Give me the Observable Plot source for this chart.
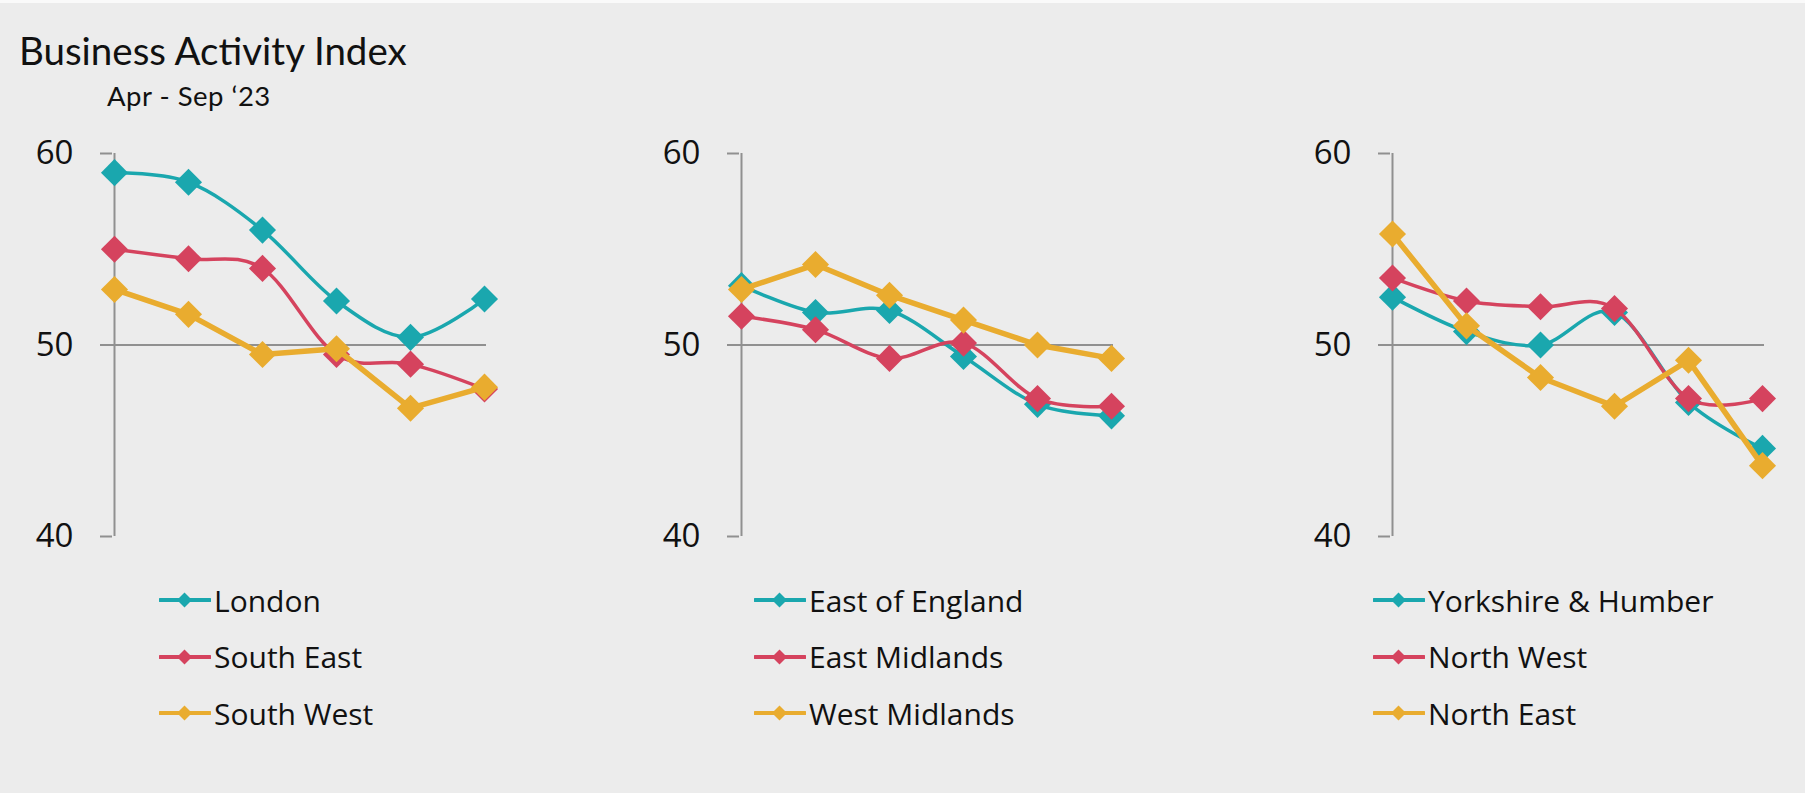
<!DOCTYPE html>
<html>
<head>
<meta charset="utf-8">
<script src="https://cdn.jsdelivr.net/npm/d3@7"></script>
<script src="https://cdn.jsdelivr.net/npm/@observablehq/plot@0.6"></script>
<style>
  html, body { margin: 0; padding: 0; background: #ececec; }
  body { width: 1805px; height: 793px; position: relative; overflow: hidden; }
  #topstrip { position: absolute; left: 0; top: 0; width: 1805px; height: 3px; background: #fafafa; }
  .title { position: absolute; left: 19px; top: 31px; font-family: Lato, sans-serif; font-size: 38.5px; line-height: 1; color: #111; white-space: nowrap; }
  .subtitle { position: absolute; left: 107px; top: 82px; font-family: Lato, sans-serif; font-size: 27.5px; letter-spacing: 0.5px; line-height: 1; color: #111; white-space: nowrap; }
  .panel { position: absolute; top: 120px; }
  .panel svg { color: #111; background: transparent; }
  .legend { position: absolute; font-family: "Open Sans", sans-serif; font-size: 30px; color: #111; }
  .legend .row { position: absolute; left: 0; height: 40px; display: flex; align-items: center; white-space: nowrap; }
  .legend .row svg { flex: none; }
  .legend .row span { margin-left: 3px; }
</style>
</head>
<body>
<div id="topstrip"></div>
<div class="title">Business Activity Index</div>
<div class="subtitle">Apr - Sep ‘23</div>
<div id="root"></div>
<script>
// Monthly business activity index, April to September 2023
const months = ["Apr", "May", "Jun", "Jul", "Aug", "Sep"];

// Panel 1
const london        = [59.0, 58.5, 56.0, 52.3, 50.4, 52.4];
const southEast     = [55.0, 54.5, 54.0, 49.5, 49.0, 47.7];
const southWest     = [52.9, 51.6, 49.5, 49.8, 46.7, 47.8];
// Panel 2
const eastOfEngland = [53.1, 51.7, 51.8, 49.4, 46.9, 46.3];
const eastMidlands  = [51.5, 50.8, 49.3, 50.1, 47.2, 46.8];
const westMidlands  = [52.9, 54.2, 52.6, 51.3, 50.0, 49.3];
// Panel 3
const yorkshire     = [52.5, 50.7, 50.0, 51.7, 47.0, 44.6];
const northWest     = [53.5, 52.3, 52.0, 51.9, 47.2, 47.2];
const northEast     = [55.8, 51.0, 48.3, 46.8, 49.2, 43.7];

const yTicks = [40, 50, 60];
const breakEven = [50];

const teal = "#1aa7ae";
const red = "#d5435e";
const gold = "#e9ac2f";
const axisGray = "#909090";

const panels = [
  {left: 0, legendX: 159, series: [
    {name: "London", values: london, color: teal, width: 3.5, curve: "cardinal"},
    {name: "South East", values: southEast, color: red, width: 3.5, curve: "cardinal"},
    {name: "South West", values: southWest, color: gold, width: 5.5, curve: "linear"}
  ]},
  {left: 627, legendX: 754, series: [
    {name: "East of England", values: eastOfEngland, color: teal, width: 3.5, curve: "cardinal"},
    {name: "East Midlands", values: eastMidlands, color: red, width: 3.5, curve: "cardinal"},
    {name: "West Midlands", values: westMidlands, color: gold, width: 5.5, curve: "linear"}
  ]},
  {left: 1278, legendX: 1373, series: [
    {name: "Yorkshire & Humber", values: yorkshire, color: teal, width: 3.5, curve: "cardinal"},
    {name: "North West", values: northWest, color: red, width: 3.5, curve: "cardinal"},
    {name: "North East", values: northEast, color: gold, width: 5.5, curve: "linear"}
  ]}
];

const root = document.getElementById("root");

for (const p of panels) {
  const marks = [
    // 50 = no change line
    Plot.ruleY(breakEven, {stroke: axisGray, strokeWidth: 2}),
    // vertical axis line
    Plot.ruleX([months[0]], {y1: yTicks[0], y2: yTicks[yTicks.length - 1], stroke: axisGray, strokeWidth: 2}),
    Plot.axisY({
      ticks: yTicks, tickSize: 12, tickPadding: 27, fontSize: 33,
      stroke: axisGray, strokeWidth: 2, tickFormat: d => String(d),
      fontFamily: "'Open Sans', sans-serif"
    })
  ];
  for (const s of p.series) {
    marks.push(Plot.line(s.values, {
      x: (d, i) => months[i], y: d => d,
      stroke: s.color, strokeWidth: s.width, curve: s.curve
    }));
    marks.push(Plot.dot(s.values, {
      x: (d, i) => months[i], y: d => d,
      symbol: "diamond2", r: 12.2, fill: s.color, stroke: "none"
    }));
  }
  const chart = Plot.plot({
    width: 526,
    height: 436,
    marginLeft: 112,
    marginRight: 40,
    marginTop: 33,
    marginBottom: 20,
    style: {background: "transparent", overflow: "visible"},
    x: {type: "point", domain: months, padding: 0, axis: null},
    y: {domain: [yTicks[0], yTicks[yTicks.length - 1]], axis: null},
    marks
  });
  const wrap = document.createElement("div");
  wrap.className = "panel";
  wrap.style.left = p.left + "px";
  wrap.appendChild(chart);
  root.appendChild(wrap);

  // legend: one row per series
  const legend = document.createElement("div");
  legend.className = "legend";
  legend.style.left = p.legendX + "px";
  legend.style.top = "0px";
  p.series.forEach((s, i) => {
    const row = document.createElement("div");
    row.className = "row";
    row.style.top = (600 + i * 56.7 - 20) + "px";
    const sw = d3.create("svg").attr("width", 52).attr("height", 20);
    sw.append("line").attr("x1", 1).attr("x2", 51).attr("y1", 10).attr("y2", 10)
      .attr("stroke", s.color).attr("stroke-width", 4).attr("stroke-linecap", "round");
    sw.append("path").attr("d", "M25.5,2.5L33,10L25.5,17.5L18,10Z").attr("fill", s.color);
    row.appendChild(sw.node());
    const label = document.createElement("span");
    label.textContent = s.name;
    row.appendChild(label);
    legend.appendChild(row);
  });
  root.appendChild(legend);
}
</script>
</body>
</html>
